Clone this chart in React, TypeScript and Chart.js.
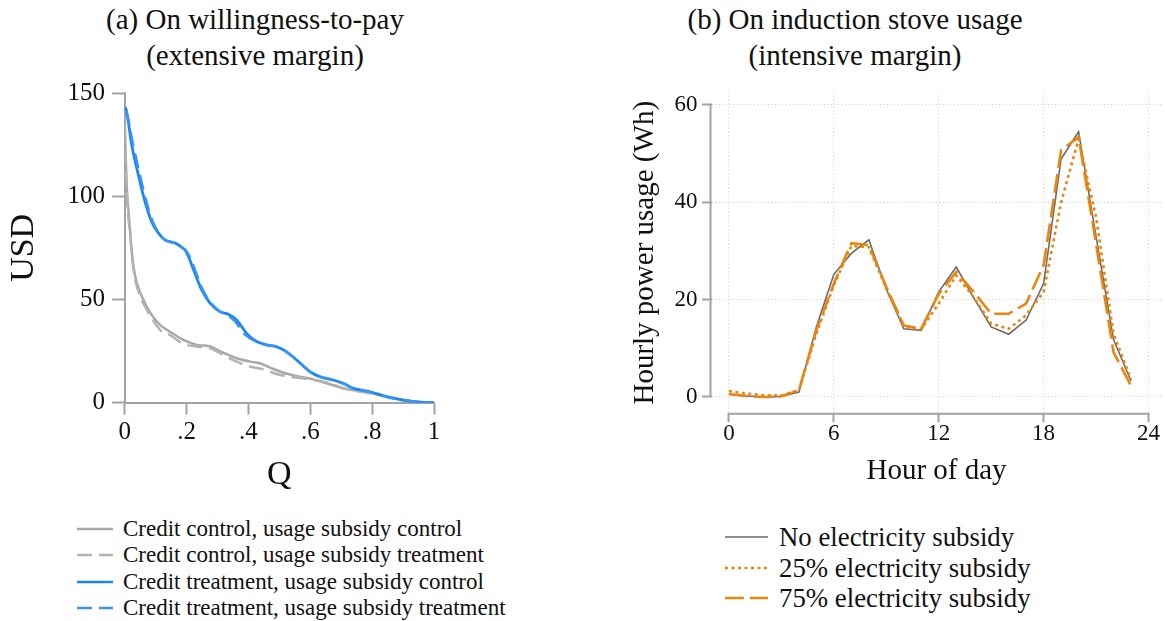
import React, { useEffect, useRef } from "react";
import { Chart, registerables } from "chart.js";

Chart.register(...registerables);

const SERIF = '"Liberation Serif", "DejaVu Serif", "Noto Serif", serif';
const AXIS_GRAY = "#a3a3a3";
const GRID_GRAY = "#cdcdcd";

// ---- Panel (a): willingness-to-pay demand curves ----
const qTicks = [0, 0.2, 0.4, 0.6, 0.8, 1];
const qTickLabels = ["0", ".2", ".4", ".6", ".8", "1"];
const usdTicks = [0, 50, 100, 150];

const ccucQ = [0, 0.003, 0.0065, 0.011, 0.015, 0.023, 0.033, 0.049, 0.066, 0.085, 0.114, 0.146, 0.19, 0.233, 0.276, 0.319, 0.362, 0.405, 0.437, 0.47, 0.513, 0.556, 0.61, 0.653, 0.707, 0.75, 0.793, 0.836, 0.9, 0.95, 1.0];
const ccucUSD = [138, 120, 105, 95, 88, 73, 62, 53.8, 48.2, 43, 37.7, 34.4, 30.4, 28.0, 27.2, 24.2, 21.5, 19.9, 19.1, 17.0, 14.5, 12.9, 11.3, 9.4, 7.0, 5.8, 4.8, 3.2, 1.3, 0.4, 0];

const ccutQ = [0, 0.003, 0.0065, 0.011, 0.016, 0.024, 0.034, 0.05, 0.066, 0.085, 0.114, 0.146, 0.19, 0.233, 0.276, 0.319, 0.362, 0.405, 0.448, 0.491, 0.534, 0.599, 0.664, 0.707, 0.75, 0.793, 0.85, 0.901, 0.95, 1.0];
const ccutUSD = [134, 116, 101, 91, 84, 70, 59.5, 51.5, 46.5, 41.5, 35.3, 32.8, 28.5, 27.2, 26.4, 23.1, 19.9, 17.5, 16.2, 13.9, 12.6, 11.3, 9.4, 7.0, 5.6, 4.5, 2.8, 1.3, 0.4, 0];

const ctucQ = [0, 0.003, 0.0226, 0.044, 0.0656, 0.087, 0.109, 0.13, 0.163, 0.184, 0.195, 0.206, 0.227, 0.249, 0.276, 0.308, 0.335, 0.362, 0.394, 0.427, 0.459, 0.491, 0.518, 0.556, 0.599, 0.631, 0.674, 0.707, 0.739, 0.793, 0.847, 0.901, 0.955, 1.0];
const ctucUSD = [143, 142.7, 124.9, 110.4, 97.4, 87.7, 82.1, 78.9, 77.3, 75.3, 74, 70.8, 62.7, 54.6, 48.2, 44.1, 42.8, 40.1, 33.6, 29.6, 28.0, 27.1, 25.2, 20.7, 15.0, 12.6, 11.0, 9.4, 7.0, 5.3, 2.9, 1.3, 0.3, 0];

const ctutQ = [0, 0.003, 0.027, 0.049, 0.07, 0.091, 0.111, 0.13, 0.163, 0.186, 0.199, 0.211, 0.232, 0.252, 0.278, 0.308, 0.33, 0.356, 0.389, 0.427, 0.459, 0.491, 0.518, 0.556, 0.599, 0.631, 0.674, 0.707, 0.739, 0.793, 0.847, 0.901, 0.955, 1.0];
const ctutUSD = [141, 141, 125, 110.5, 97.5, 87.5, 82, 78.8, 77.2, 75, 73.5, 70.5, 62.5, 54.8, 48.5, 44.2, 42.6, 39.5, 33, 29.4, 27.9, 27.2, 25.1, 20.6, 15.1, 12.5, 10.8, 9.2, 6.9, 5.2, 2.8, 1.2, 0.3, 0];

// ---- Panel (b): hourly induction stove usage ----
const hours = [0, 1, 2, 3, 4, 5, 6, 7, 8, 9, 10, 11, 12, 13, 14, 15, 16, 17, 18, 19, 20, 21, 22, 23];
const hourTicks = [0, 6, 12, 18, 24];
const whTicks = [0, 20, 40, 60];
const usageNone = [0.55, 0.2, 0, 0.1, 1.0, 14.4, 25.2, 29.5, 32.3, 22.2, 14.0, 13.7, 21.6, 26.7, 20.4, 14.4, 12.9, 15.8, 23.3, 48.9, 54.5, 33.0, 11.8, 3.3];
const usage25 = [1.2, 0.7, 0.35, 0.35, 1.4, 13.0, 23.0, 31.0, 30.8, 22.3, 14.5, 13.9, 19.2, 25.0, 20.5, 15.1, 14.0, 16.8, 21.6, 40.0, 53.0, 37.0, 13.0, 3.6];
const usage75 = [0.6, 0.2, 0, 0.15, 1.4, 13.7, 23.3, 31.6, 31.2, 22.6, 14.7, 14.05, 21.2, 25.7, 21.6, 17.1, 17.1, 19.2, 27.1, 50.7, 53.4, 31.5, 9.2, 2.3];

const GRAY_LINE = "#a9a9a9";
const GRAY_DASH = "#b3b3b3";
const BLUE = "#1a86f6";
const BLUE_DASH = "#3795f5";
const DARK_GRAY = "#6a6a6a";
const ORANGE = "#e8860f";

const wtpSeries = [
  { label: "Credit control, usage subsidy control", q: ccucQ, usd: ccucUSD, color: GRAY_LINE, dash: [] as number[], width: 2.5, order: 3 },
  { label: "Credit control, usage subsidy treatment", q: ccutQ, usd: ccutUSD, color: GRAY_DASH, dash: [15, 7], width: 2.5, order: 2 },
  { label: "Credit treatment, usage subsidy control", q: ctucQ, usd: ctucUSD, color: BLUE, dash: [] as number[], width: 2.8, order: 1 },
  { label: "Credit treatment, usage subsidy treatment", q: ctutQ, usd: ctutUSD, color: BLUE_DASH, dash: [15, 7], width: 2.5, order: 0 },
];

const usageSeries = [
  { label: "No electricity subsidy", values: usageNone, color: DARK_GRAY, dash: [] as number[], width: 1.6, order: 2 },
  { label: "25% electricity subsidy", values: usage25, color: ORANGE, dash: [3, 3.5], width: 2.6, order: 1 },
  { label: "75% electricity subsidy", values: usage75, color: ORANGE, dash: [19, 6], width: 2.6, order: 0 },
];

function fixedTicks(values: number[]) {
  return (scale: any) => {
    scale.ticks = values.map((v) => ({ value: v }));
  };
}

// Axis lines for panel (b) span only the labelled tick range.
const tickRangeAxes = {
  id: "tickRangeAxes",
  beforeDatasetsDraw(chart: any) {
    const { ctx, chartArea, scales } = chart;
    const x = scales.x;
    const y = scales.y;
    ctx.save();
    ctx.strokeStyle = AXIS_GRAY;
    ctx.lineWidth = 2;
    ctx.setLineDash([]);
    ctx.beginPath();
    ctx.moveTo(chartArea.left - 1, y.getPixelForValue(whTicks[0]));
    ctx.lineTo(chartArea.left - 1, y.getPixelForValue(whTicks[whTicks.length - 1]) - 1);
    ctx.moveTo(x.getPixelForValue(hourTicks[0]) - 1, chartArea.bottom + 1);
    ctx.lineTo(x.getPixelForValue(hourTicks[hourTicks.length - 1]) + 1, chartArea.bottom + 1);
    ctx.stroke();
    ctx.restore();
  },
};

function WtpChart() {
  const ref = useRef<HTMLCanvasElement | null>(null);
  useEffect(() => {
    if (!ref.current) return;
    const chart = new Chart(ref.current, {
      type: "line",
      data: {
        datasets: wtpSeries.map((s) => ({
          label: s.label,
          data: s.q.map((q, i) => ({ x: q, y: s.usd[i] })),
          borderColor: s.color,
          borderWidth: s.width,
          borderDash: s.dash,
          pointRadius: 0,
          fill: false,
          cubicInterpolationMode: "monotone" as const,
          order: s.order,
        })),
      },
      options: {
        animation: false,
        responsive: false,
        maintainAspectRatio: false,
        layout: { padding: { left: 0, right: 26, top: 93, bottom: 7.5 } },
        plugins: { legend: { display: false }, tooltip: { enabled: false } },
        scales: {
          x: {
            type: "linear",
            min: 0,
            max: 1,
            afterBuildTicks: fixedTicks(qTicks),
            afterFit: (s: any) => { s.height = 89.8; },
            grid: { drawOnChartArea: false, drawTicks: true, tickLength: 12, tickColor: AXIS_GRAY, tickWidth: 2 },
            border: { display: true, color: AXIS_GRAY, width: 2 },
            ticks: {
              color: "#111",
              padding: 5,
              maxRotation: 0,
              autoSkip: false,
              font: { family: SERIF, size: 25, lineHeight: 1 },
              callback: (v: any) => qTickLabels[qTicks.indexOf(Number(v))] ?? "",
            },
            title: { display: true, text: "Q", color: "#111", padding: 0, font: { family: SERIF, size: 34, lineHeight: 1 } },
          },
          y: {
            type: "linear",
            min: 0,
            max: 150,
            afterBuildTicks: fixedTicks(usdTicks),
            afterFit: (s: any) => { s.width = 124.7; },
            grid: { drawOnChartArea: false, drawTicks: true, tickLength: 12.7, tickColor: AXIS_GRAY, tickWidth: 2 },
            border: { display: true, color: AXIS_GRAY, width: 2 },
            ticks: { color: "#111", padding: 7, font: { family: SERIF, size: 25, lineHeight: 1 } },
            title: { display: true, text: "USD", color: "#111", padding: { top: 7, bottom: 0 }, font: { family: SERIF, size: 34, lineHeight: 1 } },
          },
        },
      },
    });
    return () => chart.destroy();
  }, []);
  return <canvas ref={ref} width={460} height={500} style={{ position: "absolute", left: 0, top: 0, width: 460, height: 500 }} />;
}

function UsageChart() {
  const ref = useRef<HTMLCanvasElement | null>(null);
  useEffect(() => {
    if (!ref.current) return;
    const chart = new Chart(ref.current, {
      type: "line",
      data: {
        datasets: usageSeries.map((s) => ({
          label: s.label,
          data: hours.map((h, i) => ({ x: h, y: s.values[i] })),
          borderColor: s.color,
          borderWidth: s.width,
          borderDash: s.dash,
          pointRadius: 0,
          fill: false,
          tension: 0,
          order: s.order,
        })),
      },
      options: {
        animation: false,
        responsive: false,
        maintainAspectRatio: false,
        layout: { padding: { left: 70, right: 3.4, top: 92.8, bottom: 14.5 } },
        plugins: { legend: { display: false }, tooltip: { enabled: false } },
        scales: {
          x: {
            type: "linear",
            min: -1,
            max: 24.75,
            afterBuildTicks: fixedTicks(hourTicks),
            afterFit: (s: any) => { s.height = 72.8; },
            grid: { color: GRID_GRAY, lineWidth: 1, drawTicks: true, tickLength: 9.5, tickColor: AXIS_GRAY, tickWidth: 2, tickBorderDash: [] },
            border: { display: false, dash: [1, 2.5] },
            ticks: { color: "#111", padding: 0.5, maxRotation: 0, autoSkip: false, font: { family: SERIF, size: 23, lineHeight: 1 } },
            title: { display: true, text: "Hour of day", color: "#111", padding: 0, font: { family: SERIF, size: 29, lineHeight: 1 } },
          },
          y: {
            type: "linear",
            min: -3.226,
            max: 62.5,
            afterBuildTicks: fixedTicks(whTicks),
            afterFit: (s: any) => { s.width = 81.5; },
            grid: { color: GRID_GRAY, lineWidth: 1, drawTicks: true, tickLength: 9.5, tickColor: AXIS_GRAY, tickWidth: 2, tickBorderDash: [] },
            border: { display: false, dash: [1, 2.5] },
            ticks: { color: "#111", padding: 4.5, font: { family: SERIF, size: 23, lineHeight: 1 } },
            title: { display: true, text: "Hourly power usage (Wh)", color: "#111", padding: { top: 0.5, bottom: 0 }, font: { family: SERIF, size: 29, lineHeight: 1 } },
          },
        },
      },
      plugins: [tickRangeAxes],
    });
    return () => chart.destroy();
  }, []);
  return <canvas ref={ref} width={605} height={500} style={{ position: "absolute", left: 560, top: 0, width: 605, height: 500 }} />;
}

function LegendRow(props: { x: number; y: number; lineW: number; gap: number; color: string; dash: number[]; width: number; size: number; text: string }) {
  const h = 30;
  return (
    <div style={{ position: "absolute", left: props.x, top: props.y - h / 2, height: h, display: "flex", alignItems: "center", whiteSpace: "nowrap", fontFamily: SERIF, fontSize: props.size, color: "#111", lineHeight: `${h}px` }}>
      <svg width={props.lineW} height={8} style={{ marginRight: props.gap, display: "block" }}>
        <line x1={0} y1={4} x2={props.lineW} y2={4} stroke={props.color} strokeWidth={props.width} strokeDasharray={props.dash.length ? props.dash.join(" ") : undefined} />
      </svg>
      <span>{props.text}</span>
    </div>
  );
}

function Title(props: { cx: number; lines: string[] }) {
  return (
    <div style={{ position: "absolute", left: props.cx - 250, top: 1, width: 500, textAlign: "center", fontFamily: SERIF, fontSize: 29, lineHeight: "36px", color: "#111" }}>
      {props.lines.map((l) => (
        <div key={l}>{l}</div>
      ))}
    </div>
  );
}

const wtpLegendY = [529, 555, 582, 608];
const usageLegendY = [537, 568, 598];

export default function App() {
  return (
    <div style={{ position: "absolute", left: 0, top: 0, width: 1165, height: 621, background: "#fff", overflow: "hidden" }}>
      <Title cx={255} lines={["(a) On willingness-to-pay", "(extensive margin)"]} />
      <Title cx={855} lines={["(b) On induction stove usage", "(intensive margin)"]} />
      <WtpChart />
      <UsageChart />
      {wtpSeries.map((s, i) => (
        <LegendRow key={s.label} x={77} y={wtpLegendY[i]} lineW={36} gap={10} color={s.color} dash={s.dash} width={2.5} size={23} text={s.label} />
      ))}
      {usageSeries.map((s, i) => (
        <LegendRow key={s.label} x={725} y={usageLegendY[i]} lineW={43} gap={11} color={s.color} dash={s.dash} width={s.width} size={26.8} text={s.label} />
      ))}
    </div>
  );
}
